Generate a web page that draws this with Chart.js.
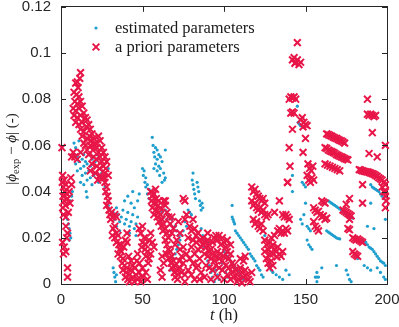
<!DOCTYPE html>
<html>
<head>
<meta charset="utf-8">
<script src="https://cdn.jsdelivr.net/npm/chart.js@4.4.1/dist/chart.umd.min.js"></script>
<style>
html,body{margin:0;padding:0;background:#fff;}
canvas{display:block;}
</style>
</head>
<body>
<canvas id="c" width="399" height="327"></canvas>
<script>
// ---- tick definitions ----
const xTickValues = [0, 50, 100, 150, 200];
const xTickLabels = ['0', '50', '100', '150', '200'];
const yTickValues = [0, 0.02, 0.04, 0.06, 0.08, 0.1, 0.12];
const yTickLabels = ['0', '0.02', '0.04', '0.06', '0.08', '0.1', '0.12'];

const seriesLabels = ['estimated parameters', 'a priori parameters'];

// ---- a priori parameters: [t (h), |phi_exp - phi|] ----
const aprioriEarly = [
[0.6,0.059],[1,0.047],[0.8,0.044],[1.5,0.042],[2,0.045],[2.5,0.040],[3,0.043],[1.2,0.038],[2,0.036],[3.5,0.039],
[1,0.033],[2.8,0.034],[4,0.037],[5,0.040],[1.5,0.030],[3,0.029],[4.5,0.031],[5.5,0.035],[6,0.046],[6.5,0.043],
[3,0.025],[4,0.022],[3.5,0.020],[1,0.018],[2,0.016],[3,0.014],[1.5,0.013],[4,0.007],[4,0.003],[6.5,0.055],[7.5,0.057],[8.5,0.055],
[12,0.0915],[11.5,0.089],[9,0.087],[10,0.0875],[10.5,0.085],[8,0.083],[9.5,0.082],[11,0.081],[8.5,0.079],[10,0.078],
[12,0.079],[7.5,0.076],[9,0.075],[11,0.076],[13,0.077],[8,0.073],[10,0.072],[12,0.073],[14,0.074],[15,0.072],
[9,0.070],[11,0.069],[13,0.070],[16,0.071],[17,0.069],[12,0.067],[14,0.066],[15.5,0.068],[18,0.067],[19,0.065],
[13,0.064],[16,0.063],[17.5,0.064],[20,0.063],[21,0.061],[15,0.060],[18,0.060],[19.5,0.058],[22,0.059],[23,0.057],
[17,0.056],[20,0.055],[21.5,0.054],[24,0.055],[25,0.053],[19,0.052],[22,0.051],[23.5,0.050],[26,0.051],[18,0.049],
[21,0.048],[24,0.047],[25.5,0.046],[27,0.048],[22.5,0.045],[10,0.054],[12,0.057],[14,0.061],[16,0.058],[18.5,0.062],
[20.5,0.060],[24,0.062],[25,0.059],[23,0.064],[26,0.057],[27,0.055],[28,0.053],[27.5,0.050],
[27,0.044],[28,0.042],[27.5,0.040],[28.5,0.038],[29,0.036],[28,0.034],[29.5,0.032],[30,0.030],[31,0.031],[32,0.029],
[30.5,0.028],[26.5,0.046],[29,0.047],[33,0.030],[34,0.029]
];
const aprioriMiddle = [
[32,0.024],[33,0.025],[34,0.022],[31.5,0.021],[33,0.020],[35,0.021],[34,0.018],[35.5,0.017],[36,0.015],[37,0.014],
[35,0.013],[36.5,0.012],[38,0.011],[37.5,0.009],[39,0.008],[38,0.006],[40,0.005],[39.5,0.003],[41,0.002],[42,0.004],
[40.5,0.007],[43,0.006],[44,0.003],[45,0.001],[42,0.001],[46,0.004],[44,0.008],[45.5,0.007],[47,0.002],[48,0.005],
[46.5,0.010],[43,0.010],[41.5,0.012],[47,0.013],[48,0.009],[49,0.001],[50,0.003],[38.5,0.016],[39.5,0.019],[37,0.017],
[40.5,0.022],[40.5,0.018],
[48,0.024],[49,0.022],[50,0.025],[51,0.020],[50,0.018],[52,0.017],[51.5,0.015],[53,0.014],[52,0.012],[54,0.011],
[53.5,0.009],[55,0.013],[49.5,0.016],[54,0.019],[55,0.022],[56,0.018],[57,0.016],[52,0.005],[53,0.002],[50,0.007],
[55,0.040],[56,0.038],[57,0.039],[55.5,0.036],[57,0.035],[58.5,0.037],[56,0.033],[58,0.032],[59.5,0.034],[60,0.031],
[57,0.030],[59,0.029],[61,0.030],[62,0.028],[60,0.027],[63,0.026],[61.5,0.025],[64,0.024],[62.5,0.023],[65,0.022],
[63,0.036],[64,0.034],[66,0.029],[58,0.041],[60,0.036],[61,0.033],[65,0.031],
[64,0.019],[65,0.017],[66,0.015],[64.5,0.013],[66,0.011],[67,0.014],[68,0.012],[67.5,0.009],[69,0.010],[68,0.007],
[70,0.008],[69.5,0.005],[71,0.006],[70,0.003],[72,0.004],[71.5,0.002],[73,0.007],[74,0.005],[72.5,0.010],[74,0.012],
[75,0.009],[76,0.004],[73,0.015],[75,0.016],[70,0.017],[71,0.019],[66,0.020],[68,0.022],[69,0.024],[67,0.026],
[76,0.001],[63,0.009],[62,0.012],[61,0.006],[77,0.013],[62,0.003]
];
const aprioriCentre = [
[75,0.037],[76,0.036],[64,0.036],[68,0.029],[76,0.028],[81,0.028],[79,0.025],[80,0.023],[82,0.024],[83,0.021],
[84,0.022],[81,0.019],[83,0.018],[85,0.019],[86,0.016],[84,0.015],[87,0.017],[78,0.020],[80,0.016],[82,0.013],
[79,0.011],[81,0.009],[78,0.006],[80,0.004],[83,0.007],[82,0.002],[85,0.011],[84,0.008],[86,0.005],[85,0.002],
[77,0.030],[73,0.022],[72,0.027],
[87,0.020],[88,0.018],[89,0.016],[90,0.019],[91,0.017],[92,0.015],[93,0.018],[94,0.020],[95,0.021],[96,0.019],
[97,0.021],[98,0.017],[99,0.020],[100,0.018],[101,0.016],[88,0.013],[90,0.012],[91,0.014],[92,0.011],[93,0.013],
[94,0.010],[95,0.012],[96,0.014],[97,0.011],[98,0.013],[99,0.010],[100,0.012],[102,0.014],[103,0.011],[104,0.013],
[89,0.008],[91,0.007],[93,0.006],[95,0.008],[97,0.007],[99,0.006],[101,0.008],[103,0.007],[105,0.009],[102,0.019],
[104,0.017],[90,0.022],[88,0.003],[92,0.002],[96,0.003],[100,0.002],
[102,0.004],[104,0.002],[105,0.005],[106,0.003],[107,0.006],[108,0.004],[109,0.002],[110,0.007],[111,0.005],[112,0.003],
[113,0.006],[114,0.004],[115,0.002],[116,0.001],[106,0.008],[108,0.001],[110,0.011],[112,0.010],[113,0.012],[111,0.0005],
[117,0.005],
[117,0.042],[118,0.040],[119,0.041],[120,0.039],[121,0.038],[122,0.037],[123,0.036],[124,0.037],[125,0.035],[117,0.036],
[118,0.034],[119,0.035],[120,0.033],[121,0.032],[122,0.033],[123,0.031],[124,0.032],[125,0.030],[126,0.029],[127,0.030],
[118,0.028],[119,0.026],[120,0.027],[121,0.025],[122,0.024],[123,0.026],[124,0.023],[125,0.019],[126,0.017],[127,0.015],
[128,0.013],[126,0.011],[127,0.009],[128,0.007],[129,0.010],[130,0.008],[125,0.014]
];
const aprioriLate = [
[128,0.018],[129,0.016],[130,0.017],[131,0.015],[132,0.014],[133,0.016],[134,0.013],[135,0.012],[136,0.014],[130,0.013],
[132.5,0.0117],[133,0.023],[134,0.024],[135,0.022],[136,0.023],[137,0.022],[138,0.024],[139,0.023],[131,0.031],[136,0.030],
[137,0.029],[138,0.030],[139,0.029],[140,0.028],[134,0.036],[139,0.044],[140.5,0.051],[129,0.020],[131,0.021],
[145,0.1045],[142,0.097],[143,0.098],[144,0.096],[145,0.097],[146,0.095],[143.5,0.0955],[147,0.096],[140,0.080],[141,0.081],
[142,0.0805],[143,0.081],[144,0.080],[141,0.074],[142,0.0745],[143,0.074],[147,0.071],[148,0.072],[149,0.070],[150,0.069],
[148.5,0.068],[142,0.067],[151,0.0685],[150,0.063],[140,0.059],[148.5,0.057],[151.5,0.052],[152.5,0.050],[153.5,0.049],[154.5,0.051],
[151,0.047],[152,0.045],[153,0.044],[154,0.046],[155,0.045],[139,0.044],
[163,0.065],[164,0.0647],[165,0.0643],[166,0.064],[167,0.0636],[168,0.0632],[169,0.063],[170,0.0626],[171,0.0622],[172,0.062],
[173,0.0615],[174,0.061],
[162,0.059],[163,0.0587],[164,0.058],[165,0.0576],[166,0.0573],[167,0.057],[168,0.0566],[169,0.056],[170,0.0557],[171,0.0553],
[172,0.055],[173,0.0547],[174,0.0543],[175,0.054],[176,0.0537],
[162,0.052],[163.5,0.0515],[165,0.051],[166.5,0.0505],[168,0.050],[169.5,0.0495],[171,0.049],
[160,0.036],[161,0.0355],[162,0.035],[155,0.033],[156,0.032],[157,0.031],[158,0.0315],[159,0.030],[160,0.029],[161,0.0295],
[162,0.028],[163,0.0285],[155,0.027],[156,0.025],[157,0.024],[158,0.023],[173,0.032],[174,0.0315],[175,0.031],[176,0.0305],
[177,0.030],[178,0.0295],[177,0.028],[177,0.037],[175,0.0345],[176,0.024],[177,0.0235],
[183,0.0495],[184,0.0493],[185,0.049],[186,0.0488],[187,0.0486],[188,0.0485],[189,0.0483],[190,0.048],[191,0.0478],[192,0.0475],
[193,0.047],[194,0.0466],[195,0.046],[196,0.0455],[197,0.045],[198,0.044],[199,0.043],[197,0.042],[198,0.040],[199,0.038],
[199.5,0.036],[199,0.040],[199,0.033],[185,0.043],[185,0.035],
[179,0.020],[180,0.0195],[181,0.019],[182,0.0195],[183,0.019],[184,0.0185],[185,0.018],
[179,0.014],[180,0.013],[181,0.0125],[182,0.012],
[188,0.080],[188,0.0735],[189,0.073],[190,0.0735],[191,0.073],[192,0.0725],[193,0.073],[191,0.0655],[189,0.0565],[194,0.055],
[199,0.060]
];

// ---- estimated parameters: [t (h), |phi_exp - phi|] ----
const estimatedEarly = [
[4,0.028],[4.5,0.026],[5,0.024],[5.5,0.022],[6,0.020],[5,0.019],[6,0.036],[7,0.040],[6.5,0.038],
[8,0.061],[9,0.059],[11,0.062],[8.5,0.056],[10,0.055],[12,0.057],[9,0.052],[11,0.053],[13,0.054],[14,0.056],
[10,0.049],[12,0.050],[14,0.051],[15,0.053],[16,0.052],[13,0.047],[15,0.048],[17,0.049],[18,0.051],[19,0.054],
[20,0.055],[21,0.053],[22,0.056],[16,0.045],[18,0.046],[20,0.047],[22,0.048],[24,0.046],[25,0.048],[26,0.045],
[14,0.043],[15.5,0.040],[16,0.0376],[12,0.044],[19,0.043],[23,0.044],[27,0.042],[28,0.053],[29,0.050],
[29,0.034],[30,0.032],[31,0.030],[32,0.031],[33,0.028],[34,0.033],[35,0.030],[36,0.027],[37,0.029],[38,0.032],
[39,0.026],[40,0.028],[41,0.031],[42,0.025],[43,0.027],[44,0.030],[45,0.024],[46,0.026],[47,0.029],[39,0.036],
[41,0.038],[43,0.035],[45,0.033],[47,0.036],[48,0.039],[44,0.040],[42,0.022],[46,0.021],[36,0.023],[34,0.025],
[32,0.007],[32.5,0.005],[33,0.003],[33.5,0.001],[34,0.004]
];
const estimatedMiddle = [
[56,0.0635],[56.5,0.060],[58,0.059],[57,0.057],[59,0.058],[60,0.056],[57.5,0.055],[59,0.054],[61,0.055],[58,0.052],
[60,0.051],[62,0.053],[59,0.049],[61,0.050],[63,0.048],[57,0.050],[60.5,0.047],[50,0.050],[51,0.049],[50.5,0.047],
[52,0.046],[51.5,0.044],[53,0.043],[52,0.042],[54,0.041],[53,0.039],[55,0.040],[54,0.037],[62,0.044],[63.5,0.045],
[61,0.033],[62,0.031],[63,0.029],[64,0.032],[65,0.028],[66,0.030],[67,0.026],[68,0.028],[69,0.024],[70,0.025],
[71,0.023],[72,0.021],[64,0.058],[64,0.046],[63,0.035],[67,0.006],
[81,0.048],[80.5,0.045],[81,0.043],[81.5,0.041],[82,0.039],[82.5,0.037],[83.5,0.044],[84,0.042],[84.5,0.040],[85,0.036],
[85.5,0.034],[86,0.032],[86.5,0.035],[87,0.033],[78,0.032],[79,0.031],[80,0.030],[76,0.027],[77,0.025],[75,0.023],
[74,0.021],[73,0.019],[72,0.017],[71,0.015],[70,0.013],[69,0.011],
[88,0.016],[89,0.013],[90,0.010],[91,0.008],[92,0.005],[93,0.003],[94,0.001],[90,0.018],[95,0.006],[96,0.004],
[97,0.002],[86,0.024],[87,0.021],[88,0.019],[99,0.009],[100,0.007],[101,0.005],[102,0.003]
];
const estimatedLate = [
[105,0.034],[105,0.029],[105.5,0.028],[106,0.027],[106.5,0.026],[107,0.023],[108,0.022],[109,0.021],[110,0.020],[111,0.019],
[112,0.018],[113,0.017],[114,0.016],[115,0.015],[116,0.013],[117,0.012],[118,0.011],[119,0.010],[120,0.008],[121,0.007],
[122,0.006],[123,0.004],[124,0.003],[100,0.014],[101,0.013],[102,0.012],[103,0.011],[104,0.010],[105,0.009],[106,0.008],
[107,0.007],[108,0.006],[109,0.005],[110,0.004],[111,0.003],[112,0.002],
[142,0.047],[142,0.040],[145,0.077],[145.5,0.070],[146,0.0695],[146.5,0.069],[147,0.0685],
[148,0.044],[149,0.043],[150,0.042],[150,0.035],[149,0.030],[151,0.019],[152,0.017],[153,0.016],[154,0.015],
[151,0.025],[152,0.024],[153,0.023],[147,0.028],[148,0.026],
[164,0.036],[165,0.0355],[166,0.035],[167,0.0345],[168,0.034],[169,0.0335],[170,0.033],[171,0.0325],[172,0.032],[173,0.0315],
[174,0.031],[175,0.0305],[176,0.030],[177,0.0295],[178,0.029],[179,0.0285],
[163,0.023],[164,0.0225],[165,0.022],[166,0.0215],[167,0.021],[168,0.0205],[169,0.020],[170,0.0197],[171,0.0195],
[190,0.043],[191,0.042],[192,0.0415],[193,0.041],[194,0.0405],[195,0.040],[196,0.039],[197,0.038],[198,0.037],
[190,0.035],[188,0.025],[192,0.024],[199,0.028],
[185,0.019],[186,0.0185],[187,0.018],[188,0.017],[189,0.016],[190,0.0155],[191,0.015],[192,0.014],[193,0.013],[194,0.012],
[195,0.011],[196,0.010],[197,0.0095],[198,0.009],[199,0.008],
[182,0.011],[169,0.008],[160,0.007],[156,0.003],[157,0.003],[158,0.003],[157,0.005],[157,0.001],[175,0.006],[176,0.004],
[177,0.002],[178,0.001],[186,0.008],[188,0.007],[190,0.006],[194,0.007],[196,0.005],[198,0.003],[199,0.002],
[128,0.008],[129,0.006],[130,0.005],[132,0.004],[134,0.003],[136,0.002],[138,0.006],[140,0.004],[125,0.021]
];

const estimatedPoints = estimatedEarly.concat(estimatedMiddle, estimatedLate);
const aprioriPoints = aprioriEarly.concat(aprioriMiddle, aprioriCentre, aprioriLate);
const toXY = arr => arr.map(p => ({x: p[0], y: p[1]}));

const BLUE = 'rgb(30,158,205)';
const RED = 'rgb(232,22,72)';
const AXIS = '#262626';

function labelFor(values, labels, v) {
  const i = values.findIndex(t => Math.abs(t - v) < 1e-9);
  return i >= 0 ? labels[i] : '';
}

const frameTicks = {
  id: 'frameTicks',
  afterDraw(chart) {
    const ctx = chart.ctx, a = chart.chartArea;
    const xs = chart.scales.x, ys = chart.scales.y;
    ctx.save();
    ctx.strokeStyle = AXIS;
    ctx.lineWidth = 1;
    ctx.beginPath();
    xTickValues.forEach(v => {
      const px = Math.round(xs.getPixelForValue(v)) + 0.5;
      ctx.moveTo(px, a.bottom); ctx.lineTo(px, a.bottom - 5);
      ctx.moveTo(px, a.top); ctx.lineTo(px, a.top + 5);
    });
    yTickValues.forEach(v => {
      const py = Math.round(ys.getPixelForValue(v)) + 0.5;
      ctx.moveTo(a.left, py); ctx.lineTo(a.left + 5, py);
      ctx.moveTo(a.right, py); ctx.lineTo(a.right - 5, py);
    });
    ctx.stroke();
    ctx.restore();
  }
};

const SERIF = '"Liberation Serif", "Times New Roman", serif';

function drawRuns(ctx, runs, x, y) {
  let total = 0;
  runs.forEach(r => { ctx.font = r.font; r.w = ctx.measureText(r.t).width; total += r.w; });
  let cx = x - total / 2;
  runs.forEach(r => {
    ctx.font = r.font;
    ctx.fillText(r.t, cx, y + (r.dy || 0));
    cx += r.w;
  });
}

const titles = {
  id: 'titles',
  afterDraw(chart) {
    const ctx = chart.ctx, a = chart.chartArea;
    ctx.save();
    ctx.fillStyle = '#1a1a1a';
    ctx.textBaseline = 'alphabetic';
    ctx.textAlign = 'left';
    const cx = (a.left + a.right) / 2;
    drawRuns(ctx, [
      {t: 't', font: 'italic 16.5px ' + SERIF},
      {t: ' (h)', font: '16.5px ' + SERIF}
    ], cx, 320);
    ctx.translate(16, 149);
    ctx.rotate(-Math.PI / 2);
    drawRuns(ctx, [
      {t: '|', font: '15px ' + SERIF},
      {t: '\u03D5', font: 'italic 15px ' + SERIF},
      {t: 'exp', font: '10.5px ' + SERIF, dy: 3},
      {t: ' \u2212 ', font: '15px ' + SERIF},
      {t: '\u03D5', font: 'italic 15px ' + SERIF},
      {t: '|', font: '15px ' + SERIF},
      {t: ' (-)', font: '15px ' + SERIF}
    ], 0, 0);
    ctx.restore();
  }
};

const legendBox = {
  id: 'legendBox',
  afterDraw(chart) {
    const ctx = chart.ctx;
    ctx.save();
    ctx.textBaseline = 'alphabetic';
    ctx.textAlign = 'left';
    ctx.font = '16.5px ' + SERIF;
    chart.data.datasets.forEach((ds, i) => {
      const my = 28 + i * 19;
      const mx = 96;
      if (ds.pointStyle === 'crossRot') {
        ctx.strokeStyle = ds.borderColor;
        ctx.lineWidth = ds.borderWidth;
        const d = ds.pointRadius * Math.SQRT1_2;
        ctx.beginPath();
        ctx.moveTo(mx - d, my - d); ctx.lineTo(mx + d, my + d);
        ctx.moveTo(mx - d, my + d); ctx.lineTo(mx + d, my - d);
        ctx.stroke();
      } else {
        ctx.fillStyle = ds.backgroundColor;
        ctx.beginPath();
        ctx.arc(mx, my, ds.pointRadius, 0, Math.PI * 2);
        ctx.fill();
      }
      ctx.fillStyle = '#1a1a1a';
      ctx.fillText(ds.label, 115, my + 4.5);
    });
    ctx.restore();
  }
};

const zeroPad = s => { s.paddingLeft = 0; s.paddingRight = 0; s.paddingTop = 0; s.paddingBottom = 0; };

const baseScale = {
  type: 'linear',
  grid: {display: false, drawTicks: false},
  border: {display: true, color: AXIS, width: 1}
};

new Chart(document.getElementById('c'), {
  type: 'scatter',
  data: {
    datasets: [
      {
        label: seriesLabels[0],
        data: toXY(estimatedPoints),
        pointStyle: 'circle',
        pointRadius: 1.6,
        borderWidth: 0,
        backgroundColor: BLUE,
        borderColor: BLUE,
        clip: false,
        order: 2
      },
      {
        label: seriesLabels[1],
        data: toXY(aprioriPoints),
        pointStyle: 'crossRot',
        pointRadius: 4.8,
        borderWidth: 2,
        backgroundColor: RED,
        borderColor: RED,
        clip: false,
        order: 1
      }
    ]
  },
  options: {
    responsive: false,
    animation: false,
    events: [],
    layout: {padding: 0},
    plugins: {legend: {display: false}, tooltip: {enabled: false}},
    scales: {
      x: Object.assign({}, baseScale, {
        position: 'bottom', min: 0, max: 200,
        afterBuildTicks: s => { s.ticks = xTickValues.map(v => ({value: v})); },
        afterFit: s => { s.height = 43; zeroPad(s); },
        ticks: {
          padding: 7, color: AXIS, maxRotation: 0, autoSkip: false,
          font: {family: '"Liberation Sans", Arial, sans-serif', size: 15},
          callback: v => labelFor(xTickValues, xTickLabels, v)
        }
      }),
      x2: Object.assign({}, baseScale, {
        position: 'top', min: 0, max: 200,
        ticks: {display: false},
        afterFit: s => { s.height = 6; zeroPad(s); }
      }),
      y: Object.assign({}, baseScale, {
        position: 'left', min: 0, max: 0.12,
        afterBuildTicks: s => { s.ticks = yTickValues.map(v => ({value: v})); },
        afterFit: s => { s.width = 61; zeroPad(s); },
        ticks: {
          padding: 10, color: AXIS, autoSkip: false,
          font: {family: '"Liberation Sans", Arial, sans-serif', size: 15},
          callback: v => labelFor(yTickValues, yTickLabels, v)
        }
      }),
      y2: Object.assign({}, baseScale, {
        position: 'right', min: 0, max: 0.12,
        ticks: {display: false},
        afterFit: s => { s.width = 12; zeroPad(s); }
      })
    }
  },
  plugins: [frameTicks, titles, legendBox]
});
</script>
</body>
</html>
